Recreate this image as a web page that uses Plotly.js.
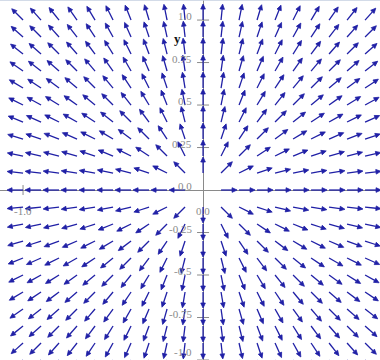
<!DOCTYPE html>
<html><head><meta charset="utf-8">
<script src="https://cdn.plot.ly/plotly-3.0.1.min.js"></script>
<style>html,body{margin:0;padding:0;background:#fff}#chart{width:380px;height:360px}</style>
</head><body><div id="chart"></div>
<script>
// grid of the direction field (data coordinates)
const gridX = [-1.0,-0.9,-0.8,-0.7,-0.6,-0.5,-0.4,-0.3,-0.2,-0.1,0.0,0.1,0.2,0.3,0.4,0.5,0.6,0.7,0.8,0.9,1.0];
const gridY = [-1.0,-0.9,-0.8,-0.7,-0.6,-0.5,-0.4,-0.3,-0.2,-0.1,0.0,0.1,0.2,0.3,0.4,0.5,0.6,0.7,0.8,0.9,1.0];
// the plotted vector field: F(x, y) = [x, y]
function field(x, y) { return [x, y]; }

const yTickVals = [1.0, 0.75, 0.5, 0.25, 0.0, -0.25, -0.5, -0.75, -1.0];
const yTickText = ["1.0", "0.75", "0.5", "0.25", "0.0", "-0.25", "-0.5", "-0.75", "-1.0"];
const xTickVals = [-1.0, 0.0];
const xTickText = ["-1.0", "0.0"];
const yAxisLabel = "y";

const W = 380, H = 360;
const xRange = [-1.128, 0.983];
const yRange = [-1.0, 1.118];
const pxX = W / (xRange[1] - xRange[0]);
const pxY = H / (yRange[1] - yRange[0]);

const ARROW = 16, HEADL = 5, HEADW = 2.3;
const color = "#2020a6";

const sx = [], sy = [], hx = [], hy = [];
for (const y of gridY) {
  for (const x of gridX) {
    const [u, v] = field(x, y);
    const m = Math.hypot(u, v);
    if (m < 1e-9) continue;
    const ux = u / m, uy = v / m;
    const tx = x + ARROW * ux / pxX, ty = y + ARROW * uy / pxY;
    const bx = x + (ARROW - HEADL) * ux / pxX, by = y + (ARROW - HEADL) * uy / pxY;
    sx.push(x, bx, null); sy.push(y, by, null);
    const px = -uy, py = ux;
    hx.push(tx, bx + HEADW * px / pxX, bx - HEADW * px / pxX, tx, null);
    hy.push(ty, by + HEADW * py / pxY, by - HEADW * py / pxY, ty, null);
  }
}

const traces = [
  {x: sx, y: sy, mode: "lines", line: {color: color, width: 1.3}, hoverinfo: "skip", showlegend: false},
  {x: hx, y: hy, mode: "lines", fill: "toself", fillcolor: color, line: {color: color, width: 0.8}, hoverinfo: "skip", showlegend: false}
];

const labelFont = {family: "Liberation Serif, serif", size: 11, color: "#8a8a8a"};
const annotations = [];
const shapes = [];
yTickVals.forEach((v, i) => {
  const bottom = (v === yRange[0]);
  annotations.push({x: 0, y: v, xref: "x", yref: "y", text: yTickText[i], showarrow: false,
    xanchor: "right", yanchor: bottom ? "bottom" : "middle", xshift: -9, yshift: bottom ? 0 : 4, font: labelFont});
  if (v !== 0) shapes.push({type: "line", xref: "x", yref: "y", xsizemode: "pixel", xanchor: 0,
    x0: -6, x1: 6, y0: v, y1: v, line: {color: "#8a8a8a", width: 1}, layer: "below"});
});
xTickVals.forEach((v, i) => {
  annotations.push({x: v, y: 0, xref: "x", yref: "y", text: xTickText[i], showarrow: false,
    xanchor: "center", yanchor: "middle", yshift: -21, font: labelFont});
  if (v !== 0) shapes.push({type: "line", xref: "x", yref: "y", ysizemode: "pixel", yanchor: 0,
    y0: -5, y1: 5, x0: v, x1: v, line: {color: "#8a8a8a", width: 1}, layer: "below"});
});
annotations.push({x: 0, y: 0.875, xref: "x", yref: "y", text: "<b>" + yAxisLabel + "</b>", showarrow: false,
  xanchor: "center", yanchor: "middle", xshift: -26, yshift: 3,
  font: {family: "Liberation Serif, serif", size: 13, color: "#111"}});
shapes.push({type: "line", xref: "paper", yref: "paper", x0: 0, x1: 1, y0: 1, y1: 1,
  line: {color: "#c5cfe0", width: 1.5}});

const layout = {
  width: W, height: H,
  margin: {l: 0, r: 0, t: 0, b: 0, pad: 0},
  paper_bgcolor: "#fff", plot_bgcolor: "#fff",
  xaxis: {range: xRange, showgrid: false, zeroline: true, zerolinecolor: "#8a8a8a", zerolinewidth: 1,
    showticklabels: false, ticks: "", showline: false, fixedrange: true},
  yaxis: {range: yRange, showgrid: false, zeroline: true, zerolinecolor: "#8a8a8a", zerolinewidth: 1,
    showticklabels: false, ticks: "", showline: false, fixedrange: true},
  annotations: annotations,
  shapes: shapes
};
Plotly.newPlot("chart", traces, layout, {staticPlot: true, displayModeBar: false});
</script></body></html>
